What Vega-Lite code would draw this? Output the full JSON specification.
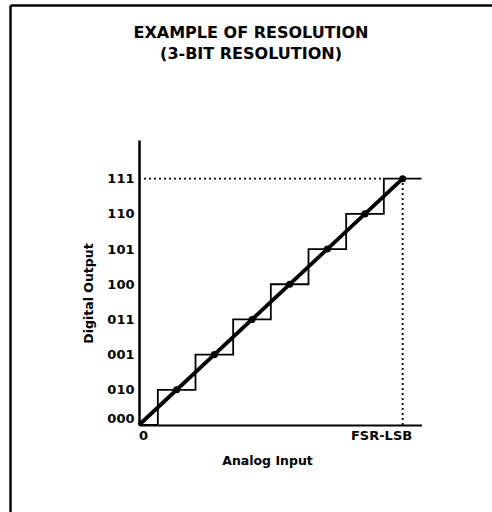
{
  "$schema": "https://vega.github.io/schema/vega-lite/v6.json",
  "width": 482,
  "height": 507,
  "autosize": {"type": "none"},
  "padding": {"left": 10, "top": 5, "right": 0, "bottom": 0},
  "background": "white",
  "config": {"view": {"stroke": null}, "font": "DejaVu Sans"},
  "title": {
    "text": ["EXAMPLE OF RESOLUTION", "(3-BIT RESOLUTION)"],
    "font": "DejaVu Sans",
    "fontSize": 16,
    "fontWeight": "bold",
    "color": "black",
    "lineHeight": 21,
    "anchor": "middle",
    "frame": "group",
    "orient": "top",
    "offset": -60
  },
  "datasets": {
    "steps": [
      {"input": 0, "output": 0},
      {"input": 0.5, "output": 1},
      {"input": 1.5, "output": 2},
      {"input": 2.5, "output": 3},
      {"input": 3.5, "output": 4},
      {"input": 4.5, "output": 5},
      {"input": 5.5, "output": 6},
      {"input": 6.5, "output": 7},
      {"input": 7.5, "output": 7}
    ],
    "ideal": [
      {"input": 0, "output": 0},
      {"input": 7, "output": 7}
    ],
    "codes": [
      {"input": 1, "output": 1},
      {"input": 2, "output": 2},
      {"input": 3, "output": 3},
      {"input": 4, "output": 4},
      {"input": 5, "output": 5},
      {"input": 6, "output": 6},
      {"input": 7, "output": 7}
    ],
    "guides": [
      {"input": 0, "input2": 6.5, "output": 7, "output2": 7},
      {"input": 7, "input2": 7, "output": 0, "output2": 7}
    ]
  },
  "layer": [
    {
      "layer": [
        {
          "data": {"name": "guides"},
          "mark": {"type": "rule", "strokeDash": [2, 3], "strokeWidth": 1.8, "color": "black"},
          "encoding": {
            "x": {
              "field": "input",
              "type": "quantitative",
              "scale": {"domain": [0, 7.5], "range": [129, 411.5], "nice": false, "zero": false},
              "axis": {
                "orient": "bottom",
                "offset": -87,
                "values": [0, 7],
                "labelExpr": "datum.value == 0 ? '0' : 'FSR-LSB'",
                "ticks": false,
                "grid": false,
                "domainColor": "black",
                "domainWidth": 2.2,
                "labelFont": "DejaVu Sans",
                "labelFontWeight": "bold",
                "labelFontSize": 13,
                "labelColor": "black",
                "labelPadding": 4,
                "labelOverlap": false,
                "labelBound": false,
                "labelAlign": {"condition": {"test": "datum.value == 7", "value": "right"}, "value": "center"},
                "labelOffset": {"condition": {"test": "datum.value == 7", "value": 9}, "value": 4},
                "title": "Analog Input",
                "titleFont": "DejaVu Sans",
                "titleFontWeight": "bold",
                "titleFontSize": 12.5,
                "titleColor": "black",
                "titleX": 257,
                "titleY": 35,
                "titleBaseline": "middle",
                "titleAlign": "center"
              }
            },
            "x2": {"field": "input2"},
            "y": {
              "field": "output",
              "type": "quantitative",
              "scale": {"domain": [0, 8.1], "range": [420, 135], "nice": false, "zero": false},
              "axis": {
                "orient": "left",
                "offset": -129,
                "values": [0, 1, 2, 3, 4, 5, 6, 7],
                "labelExpr": "['000','010','001','011','100','101','110','111'][datum.value]",
                "ticks": false,
                "grid": false,
                "domainColor": "black",
                "domainWidth": 2.5,
                "labelFont": "DejaVu Sans",
                "labelFontWeight": "bold",
                "labelFontSize": 13,
                "labelColor": "black",
                "labelPadding": 5,
                "labelFlush": true,
                "labelOverlap": false,
                "labelBound": false,
                "title": "Digital Output",
                "titleFont": "DejaVu Sans",
                "titleFontWeight": "bold",
                "titleFontSize": 12.5,
                "titleColor": "black",
                "titleX": -51,
                "titleY": 288,
                "titleAngle": -90,
                "titleBaseline": "middle",
                "titleAlign": "center"
              }
            },
            "y2": {"field": "output2"}
          }
        },
        {
          "data": {"name": "steps"},
          "mark": {"type": "line", "interpolate": "step-after", "strokeWidth": 1.8, "color": "black"},
          "encoding": {
            "x": {"field": "input", "type": "quantitative"},
            "y": {"field": "output", "type": "quantitative"}
          }
        },
        {
          "data": {"name": "ideal"},
          "mark": {"type": "line", "strokeWidth": 3.8, "color": "black"},
          "encoding": {
            "x": {"field": "input", "type": "quantitative"},
            "y": {"field": "output", "type": "quantitative"}
          }
        },
        {
          "data": {"name": "codes"},
          "mark": {"type": "point", "filled": true, "size": 50, "color": "black", "opacity": 1},
          "encoding": {
            "x": {"field": "input", "type": "quantitative"},
            "y": {"field": "output", "type": "quantitative"}
          }
        }
      ]
    },
    {
      "data": {"name": "ideal"},
      "mark": {"type": "point", "opacity": 0},
      "encoding": {
        "x": {
          "field": "input",
          "type": "quantitative",
          "axis": {"orient": "top", "offset": 0, "labels": false, "ticks": false, "grid": false, "title": null, "domainColor": "black", "domainWidth": 2.5}
        },
        "y": {
          "field": "output",
          "type": "quantitative",
          "axis": {"orient": "left", "offset": 0, "labels": false, "ticks": false, "grid": false, "title": null, "domainColor": "black", "domainWidth": 2.5}
        }
      }
    }
  ],
  "resolve": {
    "scale": {"x": "independent", "y": "independent"},
    "axis": {"x": "independent", "y": "independent"}
  }
}
